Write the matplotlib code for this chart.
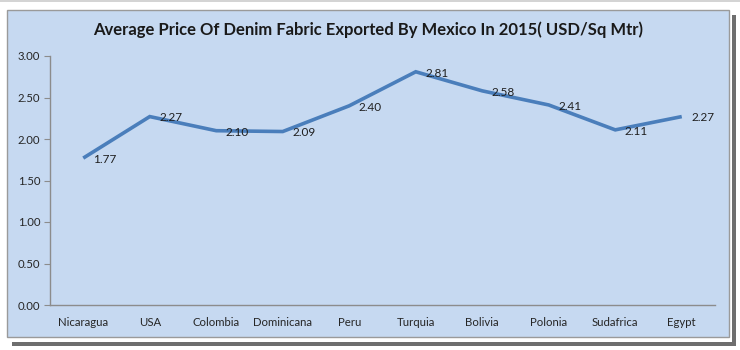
# average denim fabric export price line chart
import matplotlib
matplotlib.use("Agg")
import matplotlib.pyplot as plt
from matplotlib.patches import Rectangle

countries = ['Nicaragua', 'USA', 'Colombia', 'Dominicana', 'Peru',
             'Turquia', 'Bolivia', 'Polonia', 'Sudafrica', 'Egypt']
prices = [1.77, 2.27, 2.10, 2.09, 2.40, 2.81, 2.58, 2.41, 2.11, 2.27]
yticks = [0.0, 0.5, 1.0, 1.5, 2.0, 2.5, 3.0]

plt.rcParams['font.family'] = ['Lato', 'DejaVu Sans']

W, H = 740, 350
fig = plt.figure(figsize=(W / 100, H / 100), dpi=100)
fig.patch.set_facecolor('white')


def box(x0, y0, x1, y1, fc, ec='none', z=-5):
    # pixel box (top-left origin) -> figure rectangle
    fig.patches.append(Rectangle((x0 / W, 1 - y1 / H), (x1 - x0) / W,
                                 (y1 - y0) / H, transform=fig.transFigure,
                                 facecolor=fc, edgecolor=ec, linewidth=1,
                                 zorder=z))


# screenshot frame: top line, drop shadow, white gap, chart area
box(0, 0, W, 2, '#d4d4d4', z=-5)
box(12, 15, 736, 346, '#6e6e6e', z=-4)
box(3, 6, 732, 342, 'white', z=-3)
box(7, 10, 729, 337, '#c6d9f1', ec='#9a9a9a', z=-2)

ax = fig.add_axes([50 / W, 1 - 305 / H, 665 / W, 249 / H])
ax.set_facecolor('none')

x = list(range(len(countries)))
ax.plot(x, prices, color='#4a7ebb', linewidth=2.6, solid_capstyle='butt',
        solid_joinstyle='miter')

for xi, v in zip(x, prices):
    ax.annotate('%.2f' % v, (xi, v), xytext=(7, -1), textcoords='offset points',
                ha='left', va='center', fontsize=8.5, color='#1f1f1f')

ax.set_xlim(-0.5, len(countries) - 0.5)
ax.set_ylim(0, 3)
ax.set_yticks(yticks)
ax.set_yticklabels(['%.2f' % t for t in yticks])
ax.set_xticks(x)
ax.set_xticklabels(countries)

for s in ['top', 'right']:
    ax.spines[s].set_visible(False)
for s in ['left', 'bottom']:
    ax.spines[s].set_color('#8c8c8c')
    ax.spines[s].set_linewidth(1)

ax.tick_params(axis='y', length=4, color='#8c8c8c', labelsize=8.2,
               labelcolor='#262626', pad=3)
ax.tick_params(axis='x', length=0, labelsize=8.2, labelcolor='#262626', pad=9)

fig.text(368 / W, 1 - 30 / H,
         'Average Price Of Denim Fabric Exported By Mexico In 2015( USD/Sq Mtr)',
         ha='center', va='center', fontsize=12, fontweight='bold',
         color='#1a1a1a')

plt.savefig('out.png', dpi=100, facecolor=fig.get_facecolor())
